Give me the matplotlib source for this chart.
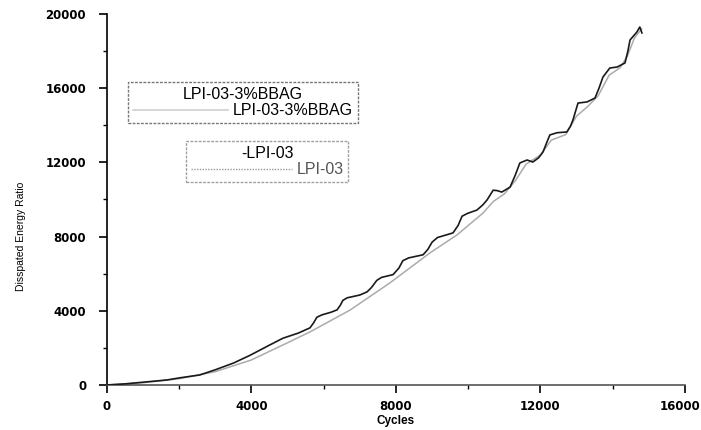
import matplotlib
matplotlib.use("Agg")
import matplotlib.pyplot as plt
import matplotlib.transforms as mtransforms
from matplotlib.lines import Line2D

plt.rcParams['font.family'] = ['Liberation Sans', 'DejaVu Sans']

# Dark curve (LPI-03-3%BBAG)
bbag_cycles = [0, 500, 1000, 1660, 2000, 2570, 3000, 3500, 3960, 4500, 4870, 5300, 5620,
               5720, 5810, 5950, 6200, 6370, 6460, 6530, 6650, 7000, 7200, 7320, 7470,
               7600, 7920, 8080, 8190, 8350, 8750, 8880, 9000, 9150, 9580, 9720, 9830,
               9980, 10240, 10400, 10520, 10690, 10800, 10930, 11160, 11300, 11430,
               11630, 11790, 11950, 12070, 12180, 12260, 12460, 12730, 12830, 12900,
               13040, 13290, 13510, 13620, 13730, 13920, 14120, 14340, 14420, 14480,
               14670, 14750, 14810]
bbag_energy = [0, 60, 150, 270, 380, 540, 820, 1180, 1600, 2150, 2520, 2800, 3080,
               3350, 3650, 3780, 3920, 4050, 4300, 4560, 4700, 4850, 5020, 5250, 5640,
               5800, 5950, 6300, 6700, 6850, 7020, 7300, 7700, 7950, 8200, 8600, 9100,
               9250, 9430, 9700, 9970, 10500, 10480, 10400, 10670, 11300, 11970,
               12130, 12020, 12250, 12560, 13100, 13480, 13600, 13640, 13950, 14290,
               15200, 15260, 15470, 16000, 16600, 17090, 17140, 17360, 18000, 18600,
               19030, 19300, 18980]

# Light curve (LPI-03)
lpi_cycles = [0, 1000, 2000, 3000, 4000, 4980, 5620, 6730, 7830, 8940, 9690, 10410,
              10700, 11000, 11300, 11600, 12000, 12300, 12700, 13000, 13300, 13600,
              13900, 14200, 14400, 14600, 14800]
lpi_energy = [0, 120, 340, 720, 1350, 2260, 2860, 4040, 5500, 7120, 8090, 9270,
              9900, 10300, 11000, 11900, 12400, 13200, 13500, 14500, 15000, 15600,
              16700, 17100, 17700, 18700, 19200]

x_ticks = [0, 4000, 8000, 12000, 16000]
y_ticks = [0, 4000, 8000, 12000, 16000, 20000]

fig = plt.figure(figsize=(7.01, 4.30), dpi=100)
ax = fig.add_axes([0.1526, 0.1047, 0.8245, 0.8627])

ax.plot(lpi_cycles, lpi_energy, color='#ababab', lw=1.1, zorder=2)
ax.plot(bbag_cycles, bbag_energy, color='#1a1a1a', lw=1.2, zorder=3)

ax.set_xlim(0, 16000)
ax.set_ylim(0, 20000)
ax.set_xticks(x_ticks)
ax.set_yticks(y_ticks)
ax.set_xticks([2000, 6000, 10000, 14000], minor=True)
ax.set_yticks([2000, 6000, 10000, 14000, 18000], minor=True)
ax.tick_params(axis='both', which='major', direction='out', length=6, width=1.2,
               labelsize=8.5, pad=5)
ax.tick_params(axis='y', which='major', pad=9)
ax.tick_params(axis='both', which='minor', direction='out', length=3, width=1)
for lab in ax.get_xticklabels() + ax.get_yticklabels():
    lab.set_fontweight('bold')
    lab.set_family('DejaVu Sans')

# keep the last x tick label inside the canvas
last = ax.get_xticklabels()[-1]
last.set_transform(last.get_transform() +
                   mtransforms.ScaledTranslation(-5 / 100, 0, fig.dpi_scale_trans))

ax.spines['top'].set_visible(False)
ax.spines['right'].set_visible(False)
ax.spines['left'].set_linewidth(1.2)
ax.spines['bottom'].set_linewidth(1.2)
ax.spines['bottom'].set_color('#555555')

ax.set_xlabel('Cycles', fontsize=8.5, fontweight='bold', labelpad=1)
ax.set_ylabel('Disspated Energy Ratio', fontsize=7.5)
ax.yaxis.set_label_coords(-0.14, 0.40)

h1 = Line2D([], [], color='#cfcfcf', lw=1.2)
leg1 = ax.legend([h1], ['LPI-03-3%BBAG'], title='LPI-03-3%BBAG',
                 loc='upper left', bbox_to_anchor=(0.036, 0.817),
                 fontsize=11.5, title_fontsize=11.5, handlelength=6.0, frameon=True,
                 fancybox=False, borderpad=0.3, labelspacing=0.1,
                 handletextpad=0.3, borderaxespad=0)
leg1.get_frame().set_edgecolor('#555555')
leg1.get_frame().set_linestyle((0, (2, 1)))
leg1.get_frame().set_linewidth(1.0)
ax.add_artist(leg1)

h2 = Line2D([], [], color='#999999', lw=1.0, ls=(0, (1, 1)))
leg2 = ax.legend([h2], ['LPI-03'], title='-LPI-03',
                 loc='upper left', bbox_to_anchor=(0.137, 0.658),
                 fontsize=11.5, title_fontsize=11.5, handlelength=6.3, frameon=True,
                 fancybox=False, borderpad=0.3, labelspacing=0.1,
                 handletextpad=0.3, borderaxespad=0)
leg2.get_frame().set_edgecolor('#888888')
leg2.get_frame().set_linestyle((0, (2, 1)))
leg2.get_frame().set_linewidth(1.0)
for t in leg2.get_texts():
    t.set_color('#555555')

fig.savefig('out.png', dpi=100)
